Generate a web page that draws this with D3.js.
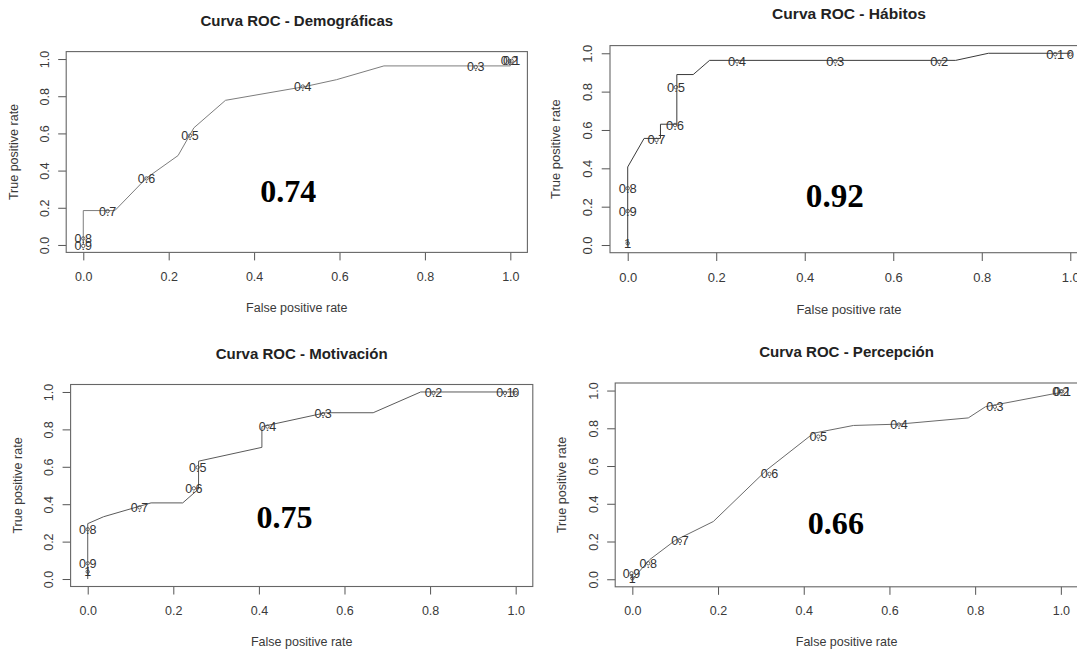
<!DOCTYPE html>
<html>
<head>
<meta charset="utf-8">
<script src="https://cdn.jsdelivr.net/npm/d3@7"></script>
<style>
  body { margin: 0; background: #fff; }
  svg text { font-family: "Liberation Sans", Arial, sans-serif; }
</style>
</head>
<body>
<svg id="chart" width="1077" height="650"></svg>
<script>
// values
const titles = ["Curva ROC - Demográficas", "Curva ROC - Hábitos", "Curva ROC - Motivación", "Curva ROC - Percepción"];
const aucValues = ["0.74", "0.92", "0.75", "0.66"];
const tickValues = [0, 0.2, 0.4, 0.6, 0.8, 1.0];
const xLabel = "False positive rate";
const yLabel = "True positive rate";

// Demográficas
const demoFpr = [0, 0, 0.074, 0.148, 0.222, 0.259, 0.333, 0.519, 0.593, 0.704, 1.0, 1.0];
const demoTpr = [0, 0.185, 0.185, 0.36, 0.481, 0.63, 0.778, 0.852, 0.889, 0.963, 0.963, 1.0];
const demoCutLabels = ["0.1", "0.2", "0.3", "0.4", "0.5", "0.6", "0.7", "0.8", "0.9"];
const demoCutFpr = [1.003, 0.998, 0.919, 0.514, 0.25, 0.148, 0.057, 0, 0];
const demoCutTpr = [0.99, 0.99, 0.957, 0.852, 0.588, 0.358, 0.182, 0.035, -0.005];

// Hábitos
const habFpr = [0, 0, 0.037, 0.074, 0.074, 0.111, 0.111, 0.148, 0.185, 0.741, 0.815, 1.0];
const habTpr = [0, 0.407, 0.556, 0.556, 0.63, 0.63, 0.889, 0.889, 0.963, 0.963, 1.0, 1.0];
const habCutLabels = ["1", "0.9", "0.8", "0.7", "0.6", "0.5", "0.4", "0.3", "0.2", "0.1", "0"];
const habCutFpr = [0, 0, 0, 0.065, 0.107, 0.109, 0.247, 0.469, 0.704, 0.966, 1.0];
const habCutTpr = [0.009, 0.177, 0.296, 0.548, 0.626, 0.823, 0.958, 0.958, 0.955, 0.995, 0.995];

// Motivación
const motFpr = [0, 0, 0.037, 0.148, 0.222, 0.259, 0.259, 0.407, 0.407, 0.556, 0.667, 0.778, 1.0];
const motTpr = [0, 0.296, 0.333, 0.407, 0.407, 0.481, 0.63, 0.704, 0.815, 0.889, 0.889, 1.0, 1.0];
const motCutLabels = ["1", "0.9", "0.8", "0.7", "0.6", "0.5", "0.4", "0.3", "0.2", "0.1", "0"];
const motCutFpr = [0, 0, 0, 0.121, 0.248, 0.257, 0.42, 0.55, 0.808, 0.975, 1.0];
const motCutTpr = [0.039, 0.084, 0.266, 0.383, 0.485, 0.597, 0.815, 0.882, 0.995, 0.995, 0.995];

// Percepción
const perFpr = [0, 0.041, 0.10, 0.189, 0.314, 0.423, 0.516, 0.622, 0.784, 0.824, 1.0];
const perTpr = [0, 0.105, 0.206, 0.306, 0.58, 0.774, 0.815, 0.822, 0.855, 0.914, 0.99];
const perCutLabels = ["1", "0.9", "0.8", "0.7", "0.6", "0.5", "0.4", "0.3", "0.2", "0.1"];
const perCutFpr = [0, -0.002, 0.037, 0.111, 0.32, 0.434, 0.622, 0.846, 1.0, 1.003];
const perCutTpr = [0.005, 0.032, 0.085, 0.203, 0.558, 0.756, 0.82, 0.914, 0.996, 0.996];

const series = [
    { fpr: demoFpr, tpr: demoTpr, cuts: demoCutLabels, cutFpr: demoCutFpr, cutTpr: demoCutTpr },
    { fpr: habFpr, tpr: habTpr, cuts: habCutLabels, cutFpr: habCutFpr, cutTpr: habCutTpr },
    { fpr: motFpr, tpr: motTpr, cuts: motCutLabels, cutFpr: motCutFpr, cutTpr: motCutTpr },
    { fpr: perFpr, tpr: perTpr, cuts: perCutLabels, cutFpr: perCutFpr, cutTpr: perCutTpr }
];

// where each plot box sits in the page (the four plots were pasted at slightly different sizes)
const layout = [
    { x0: 66.2, x1: 527.4, y0: 51.6, y1: 252.4, aucAt: [0.48, 0.29], stroke: "#7d7d7d" },
    { x0: 610, x1: 1088, y0: 45.6, y1: 252.7, aucAt: [0.468, 0.26], stroke: "#3a3a3a" },
    { x0: 70.6, x1: 532.8, y0: 384.5, y1: 586.5, aucAt: [0.46, 0.333], stroke: "#5a5a5a" },
    { x0: 615.2, x1: 1078, y0: 383, y1: 586.8, aucAt: [0.475, 0.298], stroke: "#6a6a6a" }
];

const svg = d3.select("#chart");
const fmt = d3.format(".1f");

series.forEach((s, i) => {
    const L = layout[i];
    const k = (L.x1 - L.x0) / 461; // font scale
    const base = 12.5 * k;

    // R pads the range by 4% on each side
    const x = d3.scaleLinear().domain([-0.04, 1.04]).range([L.x0, L.x1]);
    const y = d3.scaleLinear().domain([-0.04, 1.04]).range([L.y1, L.y0]);

    const g = svg.append("g");

    // x axis
    const gx = g.append("g")
        .attr("transform", "translate(0," + L.y1 + ")")
        .call(d3.axisBottom(x).tickValues(tickValues).tickSize(8 * k).tickFormat(fmt));
    gx.select(".domain").remove();
    gx.selectAll("line").attr("stroke", "#555");
    gx.selectAll("text")
        .attr("y", 24 * k).attr("dy", "0.35em")
        .attr("fill", "#3a3a3a").style("font-size", base + "px")
        .style("font-family", "Liberation Sans, Arial, sans-serif");

    // y axis, labels turned like R's las = 0
    const gy = g.append("g")
        .attr("transform", "translate(" + L.x0 + ",0)")
        .call(d3.axisLeft(y).tickValues(tickValues).tickSize(8 * k).tickFormat(fmt));
    gy.select(".domain").remove();
    gy.selectAll("line").attr("stroke", "#555");
    gy.selectAll("text")
        .attr("transform", "rotate(-90)")
        .attr("x", 0).attr("y", -22 * k).attr("dy", "0.35em")
        .attr("text-anchor", "middle")
        .attr("fill", "#3a3a3a").style("font-size", base + "px")
        .style("font-family", "Liberation Sans, Arial, sans-serif");

    // plot box
    g.append("rect")
        .attr("x", L.x0).attr("y", L.y0)
        .attr("width", L.x1 - L.x0).attr("height", L.y1 - L.y0)
        .attr("fill", "none").attr("stroke", "#666").attr("stroke-width", 1.1);

    // title and axis titles
    g.append("text")
        .attr("x", (L.x0 + L.x1) / 2).attr("y", L.y0 - 31 * k).attr("dy", "0.35em")
        .attr("text-anchor", "middle").attr("font-weight", "bold")
        .attr("fill", "#222").style("font-size", (base * 1.2) + "px")
        .text(titles[i]);

    g.append("text")
        .attr("x", (L.x0 + L.x1) / 2).attr("y", L.y1 + 55 * k).attr("dy", "0.35em")
        .attr("text-anchor", "middle").attr("fill", "#3a3a3a")
        .style("font-size", base + "px")
        .text(xLabel);

    g.append("text")
        .attr("transform", "translate(" + (L.x0 - 53 * k) + "," + ((L.y0 + L.y1) / 2) + ") rotate(-90)")
        .attr("dy", "0.35em")
        .attr("text-anchor", "middle").attr("fill", "#3a3a3a")
        .style("font-size", base + "px")
        .text(yLabel);

    // ROC curve
    const pts = s.fpr.map((f, j) => [f, s.tpr[j]]);
    const line = d3.line().x(d => x(d[0])).y(d => y(d[1]));
    g.append("path")
        .attr("d", line(pts))
        .attr("fill", "none")
        .attr("stroke", L.stroke)
        .attr("stroke-width", 1);

    // cutoff labels with their small point marker
    const cuts = s.cuts.map((c, j) => ({ label: c, f: s.cutFpr[j], t: s.cutTpr[j] }));
    const cg = g.append("g").selectAll("g").data(cuts).join("g")
        .attr("transform", d => "translate(" + x(d.f) + "," + y(d.t) + ")");
    cg.append("text")
        .attr("text-anchor", "middle").attr("dy", "0.35em")
        .attr("fill", "#333").style("font-size", base + "px")
        .text(d => d.label);
    cg.append("circle")
        .attr("r", 1.7 * k)
        .attr("fill", "none").attr("stroke", "#444").attr("stroke-width", 0.8);

    // AUC value
    g.append("text")
        .attr("x", x(L.aucAt[0])).attr("y", y(L.aucAt[1]))
        .attr("dy", "0.35em").attr("text-anchor", "middle")
        .attr("font-weight", "bold")
        .style("font-family", "Liberation Serif, 'Times New Roman', serif")
        .style("font-size", (32 * k) + "px")
        .attr("fill", "#000")
        .text(aucValues[i]);
});
</script>
</body>
</html>
